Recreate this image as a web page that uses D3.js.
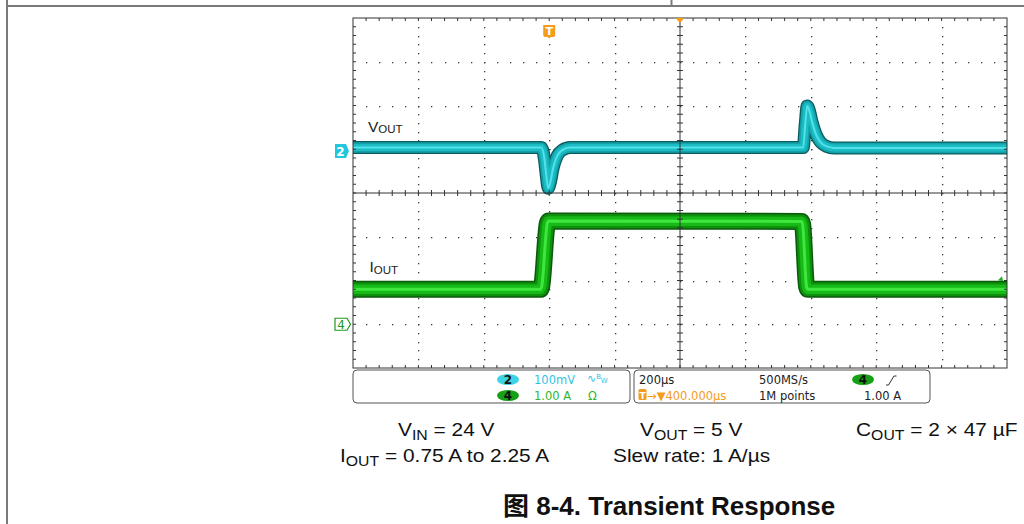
<!DOCTYPE html>
<html><head><meta charset="utf-8">
<script src="https://cdn.jsdelivr.net/npm/d3@7"></script>
<style>body{margin:0;background:#fff}svg{display:block}</style>
</head><body>
<svg id="c" width="1024" height="524"></svg>
<script>
// ---- data (read from the scope capture) ----
// Channel 2: VOUT (AC deviation, mV) vs time (µs, trigger = 0)
const voutTime = [-600, -24.5, -15, -9, -3, 3, 12, 24.5, 40, 64, 776.7, 782.8, 789, 795, 804, 816.5, 829, 847, 871.5, 1400];
const voutMv   = [8, 8, -16, -55, -85, -73, -39, -11, 2, 8, 8, 59, 103, 94, 66, 37, 21, 11, 7, 7];
// Channel 4: IOUT (A) vs time (µs)
const ioutTime = [-600, -26, -23, -6, -2, 772, 775, 787, 791, 1400];
const ioutA    = [0.80, 0.80, 0.86, 2.30, 2.36, 2.35, 2.29, 0.86, 0.80, 0.80];
// scope settings
const timePerDiv = 200;      // µs/div
const timeLeft = -600;       // µs at left edge
const ch2PerDiv = 100;       // mV/div
const ch2Offset = 0.96;      // divisions above centre
const ch4PerDiv = 1;         // A/div
const ch4Offset = -3;        // divisions (below centre)
const infoRow1 = ["100mV", "200µs", "500MS/s"];
const infoRow2 = ["1.00 A", "400.000µs", "1M points", "1.00 A"];

const svg = d3.select("#c");
const L = 353, R = 1007, T = 18, B = 368;

const xDiv = d3.scaleLinear().domain([0, 10]).range([L, R]);
const yDiv = d3.scaleLinear().domain([-4, 4]).range([B, T]);
const x = d3.scaleLinear().domain([timeLeft, timeLeft + 10 * timePerDiv]).range([L, R]);
const yV = d3.scaleLinear().domain([(-4 - ch2Offset) * ch2PerDiv, (4 - ch2Offset) * ch2PerDiv]).range([B, T]);
const yI = d3.scaleLinear().domain([(-4 - ch4Offset) * ch4PerDiv, (4 - ch4Offset) * ch4PerDiv]).range([B, T]);

// ---- page frame lines ----
const frame = svg.append("g").attr("stroke", "#7a7a7a").attr("stroke-width", 2);
frame.append("line").attr("x1", 7).attr("x2", 1024).attr("y1", 6).attr("y2", 6);
frame.append("line").attr("x1", 7).attr("x2", 7).attr("y1", 0).attr("y2", 524);
frame.append("line").attr("x1", 671.5).attr("x2", 671.5).attr("y1", 0).attr("y2", 6);

// ---- dotted graticule ----
const dots = [];
for (let j = -3; j <= 3; j++) { if (j === 0) continue;
  for (let i = 1; i < 50; i++) dots.push([xDiv(i / 5), yDiv(j)]); }
for (let k = 1; k <= 9; k++) { if (k === 5) continue;
  for (let m = -19; m <= 19; m++) dots.push([xDiv(k), yDiv(m / 5)]); }
svg.append("g").attr("fill", "#3a3a3a").selectAll("rect").data(dots).join("rect")
  .attr("x", d => Math.round(d[0])).attr("y", d => Math.round(d[1]))
  .attr("width", 1.3).attr("height", 1.3);

// ---- traces ----
svg.append("clipPath").attr("id", "plot").append("rect")
  .attr("x", L - 1).attr("y", T).attr("width", R - L + 1).attr("height", B - T);
const traces = svg.append("g").attr("clip-path", "url(#plot)");
function band(data, yScale, layers) {
  const line = d3.line().x(d => x(d[0])).y(d => yScale(d[1])).curve(d3.curveMonotoneX);
  layers.forEach(([w, c]) => traces.append("path").datum(data).attr("d", line)
    .attr("fill", "none").attr("stroke", c).attr("stroke-width", w)
    .attr("stroke-linejoin", "round"));
}
band(voutTime.map((t, i) => [t, voutMv[i]]), yV,
  [[13, "#0b5c5f"], [10.5, "#14a0a8"], [7, "#1cbcc5"], [2, "#52e2ea"]]);
band(ioutTime.map((t, i) => [t, ioutA[i]]), yI,
  [[17, "#0a5a0a"], [14, "#0e8f0e"], [9.5, "#16b916"], [3, "#3ee63e"]]);

// small end marker on IOUT at right edge
svg.append("path").attr("d", `M${R - 9},${yI(0.80) - 9} l4,-4 l1,5 z`).attr("fill", "#19b019");

// ---- axes (centre lines with ticks) and border ----
const ax = svg.append("g").attr("stroke", "#333").attr("stroke-width", 1);
ax.append("rect").attr("x", L).attr("y", T).attr("width", R - L).attr("height", B - T).attr("fill", "none");
ax.append("line").attr("x1", L).attr("x2", R).attr("y1", yDiv(0)).attr("y2", yDiv(0));
ax.append("line").attr("x1", xDiv(5)).attr("x2", xDiv(5)).attr("y1", T).attr("y2", B);
const xm = d3.range(1, 50).map(i => xDiv(i / 5));
const ym = d3.range(-19, 20).map(m => yDiv(m / 5));
ax.selectAll(".tt").data(xm).join("line").attr("x1", d => d).attr("x2", d => d).attr("y1", T).attr("y2", T + 3);
ax.selectAll(".tb").data(xm).join("line").attr("x1", d => d).attr("x2", d => d).attr("y1", B).attr("y2", B - 3);
ax.selectAll(".tc").data(xm).join("line").attr("x1", d => d).attr("x2", d => d).attr("y1", yDiv(0) - 3).attr("y2", yDiv(0) + 3);
ax.selectAll(".tl").data(ym).join("line").attr("y1", d => d).attr("y2", d => d).attr("x1", L).attr("x2", L + 3);
ax.selectAll(".tr").data(ym).join("line").attr("y1", d => d).attr("y2", d => d).attr("x1", R).attr("x2", R - 3);
ax.selectAll(".tv").data(ym).join("line").attr("y1", d => d).attr("y2", d => d).attr("x1", xDiv(5) - 3).attr("x2", xDiv(5) + 3);

// ---- markers ----
const orange = "#f39c1e";
svg.append("path").attr("d", `M${xDiv(5) - 4.5},${T} h9 l-4.5,5 z`).attr("fill", orange);
const tx = x(0);
svg.append("path").attr("d", `M${tx - 6},25 h12 v10 q0,2 -2,2 h-2.5 l-1.5,1.5 l-1.5,-1.5 h-2.5 q-2,0 -2,-2 z`).attr("fill", orange);
svg.append("text").attr("x", tx).attr("y", 35).attr("text-anchor", "middle").attr("fill", "#fff")
  .attr("font-family", "DejaVu Sans").attr("font-weight", "bold").attr("font-size", 11).text("T");

const c2y = yV(0);
svg.append("path").attr("d", `M335,${c2y - 7} h11 l3,7 l-3,7 h-11 z`).attr("fill", "#21c7dc");
svg.append("text").attr("x", 340.5).attr("y", c2y + 4.5).attr("text-anchor", "middle").attr("fill", "#fff")
  .attr("font-family", "DejaVu Sans").attr("font-weight", "bold").attr("font-size", 12).text("2");
const c4y = yI(0);
svg.append("path").attr("d", `M335,${c4y - 6} h12 l3.5,6 l-3.5,6 h-12 z`).attr("fill", "#fff").attr("stroke", "#1e9a1e").attr("stroke-width", 1.2);
svg.append("text").attr("x", 341).attr("y", c4y + 4.5).attr("text-anchor", "middle").attr("fill", "#1e9a1e")
  .attr("font-family", "DejaVu Sans").attr("font-size", 12).text("4");

// trace labels
function subLabel(xp, yp, main, sub, fs, sfs, dy) {
  const t = svg.append("text").attr("x", xp).attr("y", yp).attr("fill", "#1a1a1a")
    .attr("font-family", "Liberation Sans, Arial, sans-serif").attr("font-size", fs);
  t.append("tspan").text(main);
  t.append("tspan").attr("font-size", sfs).attr("dy", dy).text(sub);
  return t;
}
subLabel(368, 131.5, "V", "OUT", 15.5, 11.5, 1.5);
subLabel(369.5, 272, "I", "OUT", 15.5, 11.5, 1.5);

// ---- info boxes ----
const box = svg.append("g").attr("fill", "none").attr("stroke", "#555").attr("stroke-width", 1);
box.append("rect").attr("x", 353).attr("y", 370).attr("width", 277).attr("height", 33).attr("rx", 4);
box.append("rect").attr("x", 634).attr("y", 370).attr("width", 296).attr("height", 33).attr("rx", 4);
const sf = "DejaVu Sans, sans-serif";
function txt(xp, yp, s, col, fs) {
  return svg.append("text").attr("x", xp).attr("y", yp).attr("fill", col)
    .attr("font-family", sf).attr("font-size", fs || 11.5).text(s);
}
function badge(cx, cy, fill, label) {
  svg.append("ellipse").attr("cx", cx).attr("cy", cy).attr("rx", 11).attr("ry", 5.5).attr("fill", fill);
  svg.append("text").attr("x", cx).attr("y", cy + 4.5).attr("text-anchor", "middle").attr("fill", "#111")
    .attr("font-family", sf).attr("font-weight", "bold").attr("font-size", 12).text(label);
}
const cyan = "#32c2e2", green = "#2fb52f";
badge(508, 379.5, "#3fd3e6", "2");
badge(508, 395.5, "#15a015", "4");
txt(534, 383.5, infoRow1[0], cyan);
const bw = txt(587, 382, "∿", cyan, 11);
bw.append("tspan").attr("font-size", 7).attr("dy", -3).text("B");
bw.append("tspan").attr("font-size", 7).attr("dy", 4).text("W");
txt(534, 400, infoRow2[0], green);
txt(588, 400, "Ω", green);

txt(639, 383.5, infoRow1[1], "#222");
txt(759, 383.5, infoRow1[2], "#222");
badge(863, 379.5, "#15a015", "4");
svg.append("path").attr("d", "M886,385 h2.5 l5.5,-9 h2.5").attr("fill", "none").attr("stroke", "#333").attr("stroke-width", 1);
svg.append("rect").attr("x", 638.5).attr("y", 389).attr("width", 8).attr("height", 11).attr("rx", 1.5).attr("fill", orange);
svg.append("text").attr("x", 642.5).attr("y", 398.5).attr("text-anchor", "middle").attr("fill", "#fff")
  .attr("font-family", sf).attr("font-weight", "bold").attr("font-size", 9).text("T");
txt(647, 400, "→▼" + infoRow2[1], orange);
txt(759, 400, infoRow2[2], "#222");
txt(864, 400, infoRow2[3], "#222");

// ---- captions ----
function caption(xp, yp, parts, sx) {
  const g = svg.append("g").attr("transform", `translate(${xp},${yp}) scale(${sx},1)`);
  const t = g.append("text").attr("fill", "#111")
    .attr("font-family", "Liberation Sans, Arial, sans-serif").attr("font-size", 18.5);
  let shifted = false;
  parts.forEach(([s, sub]) => {
    const ts = t.append("tspan").text(s);
    if (sub) { ts.attr("font-size", 14).attr("dy", shifted ? 0 : 4); shifted = true; }
    else if (shifted) { ts.attr("dy", -4); shifted = false; }
  });
}
const S = 1.13;
caption(398, 436, [["V"], ["IN", 1], [" = 24 V"]], S);
caption(640, 436, [["V"], ["OUT", 1], [" = 5 V"]], S);
caption(856, 436, [["C"], ["OUT", 1], [" = 2 × 47 µF"]], S);
caption(340, 462, [["I"], ["OUT", 1], [" = 0.75 A to 2.25 A"]], S);
caption(613, 462, [["Slew rate: 1 A/µs"]], S);

svg.append("g").attr("transform", "translate(503,515) scale(1.04,1)")
  .append("text").attr("fill", "#111")
  .attr("font-family", "Liberation Sans, Arial, Noto Sans CJK SC, sans-serif")
  .attr("font-weight", "bold").attr("font-size", 25).text("图 8-4. Transient Response");
</script>
</body></html>
